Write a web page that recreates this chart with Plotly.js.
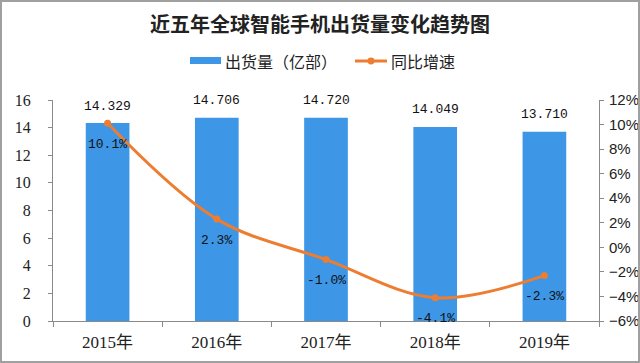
<!DOCTYPE html>
<html>
<head>
<meta charset="utf-8">
<script src="https://cdn.plot.ly/plotly-3.0.1.min.js"></script>
<style>
html,body{margin:0;padding:0;background:#fff;}
#wrap{position:relative;width:640px;height:363px;}
#chart{width:640px;height:363px;}
#frame{position:absolute;left:0;top:0;width:640px;height:363px;box-sizing:border-box;border:2px solid #a0a0a0;pointer-events:none;}
</style>
</head>
<body>
<div id="wrap"><div id="chart"></div><div id="frame"></div></div>
<script>
const years = ['2015年', '2016年', '2017年', '2018年', '2019年'];
const shipments = [14.329, 14.706, 14.720, 14.049, 13.710];
const growth = [10.1, 2.3, -1.0, -4.1, -2.3];
const seriesNames = ['出货量（亿部）', '同比增速'];
const titleText = '近五年全球智能手机出货量变化趋势图';

const barColor = '#3D97E6';
const lineColor = '#ED7D31';
const labelFont = {family: 'Liberation Mono, DejaVu Sans Mono, monospace', size: 13, color: '#111'};

const bars = {
  type: 'bar', x: years, y: shipments, name: seriesNames[0],
  marker: {color: barColor}, hoverinfo: 'skip', showlegend: false
};
const line = {
  type: 'scatter', mode: 'lines+markers', x: years, y: growth, yaxis: 'y2',
  name: seriesNames[1],
  line: {color: lineColor, width: 3, shape: 'spline', smoothing: 1},
  marker: {color: lineColor, size: 7}, hoverinfo: 'skip', showlegend: false
};

const annotations = [];
years.forEach((c, i) => {
  annotations.push({x: c, y: shipments[i], xref: 'x', yref: 'y', text: shipments[i].toFixed(3),
    showarrow: false, yanchor: 'middle', yshift: 17, font: labelFont});
  annotations.push({x: c, y: growth[i], xref: 'x', yref: 'y2', text: growth[i].toFixed(1) + '%',
    showarrow: false, yanchor: 'middle', yshift: -21, font: labelFont});
});

// custom legend (layout only)
const legFont = {family: 'Noto Sans CJK SC', size: 16, color: '#222'};
const legY = 1.1765;
annotations.push({xref: 'paper', yref: 'paper', x: 0.3114, y: legY, xanchor: 'left', yanchor: 'middle',
  text: seriesNames[0], showarrow: false, font: legFont});
annotations.push({xref: 'paper', yref: 'paper', x: 0.6154, y: legY, xanchor: 'left', yanchor: 'middle',
  text: seriesNames[1], showarrow: false, font: legFont});
const shapes = [
  {type: 'rect', xref: 'paper', yref: 'paper', x0: 0.2509, x1: 0.3077, y0: 1.1629, y1: 1.1946,
    fillcolor: barColor, line: {width: 0}},
  {type: 'line', xref: 'paper', yref: 'paper', x0: 0.5531, x1: 0.6117, y0: legY, y1: legY,
    line: {color: lineColor, width: 3}},
  {type: 'circle', xref: 'paper', yref: 'paper', x0: 0.5824 - 0.0064, x1: 0.5824 + 0.0064,
    y0: legY - 0.0158, y1: legY + 0.0158, fillcolor: lineColor, line: {width: 0}}
];

const layout = {
  width: 640, height: 363,
  margin: {l: 53, r: 41, t: 100, b: 42},
  paper_bgcolor: '#fff', plot_bgcolor: '#fff',
  title: {text: '<b>' + titleText + '</b>', x: 0.5, xanchor: 'center', y: 1 - 25/363, yanchor: 'middle',
    font: {family: 'Noto Sans CJK SC', size: 20, color: '#222'}},
  showlegend: false,
  bargap: 0.6,
  xaxis: {type: 'category', showline: true, linecolor: '#8a8a8a', linewidth: 1,
    ticks: 'outside', tickson: 'boundaries', ticklen: 5, tickcolor: '#8a8a8a', ticklabelstandoff: 6,
    tickfont: {family: 'Liberation Serif, Noto Sans CJK SC, serif', size: 17, color: '#222'},
    showgrid: false, zeroline: false, fixedrange: true},
  yaxis: {range: [0, 16], dtick: 2, showline: true, linecolor: '#8a8a8a', ticks: 'outside',
    ticklen: 4, tickcolor: '#8a8a8a', ticklabelstandoff: 14,
    tickfont: {family: 'Liberation Serif, DejaVu Serif, serif', size: 16, color: '#222'},
    showgrid: false, zeroline: false},
  yaxis2: {range: [-6, 12], dtick: 2, overlaying: 'y', side: 'right', ticksuffix: '%',
    showline: true, linecolor: '#8a8a8a', ticks: 'outside', ticklen: 4, tickcolor: '#8a8a8a',
    ticklabelstandoff: 2,
    tickfont: {family: 'Liberation Sans Narrow, Liberation Sans, sans-serif', size: 15, color: '#222'},
    showgrid: false, zeroline: false},
  annotations: annotations,
  shapes: shapes
};

Plotly.newPlot('chart', [bars, line], layout, {displayModeBar: false, staticPlot: true});
</script>
</body>
</html>
